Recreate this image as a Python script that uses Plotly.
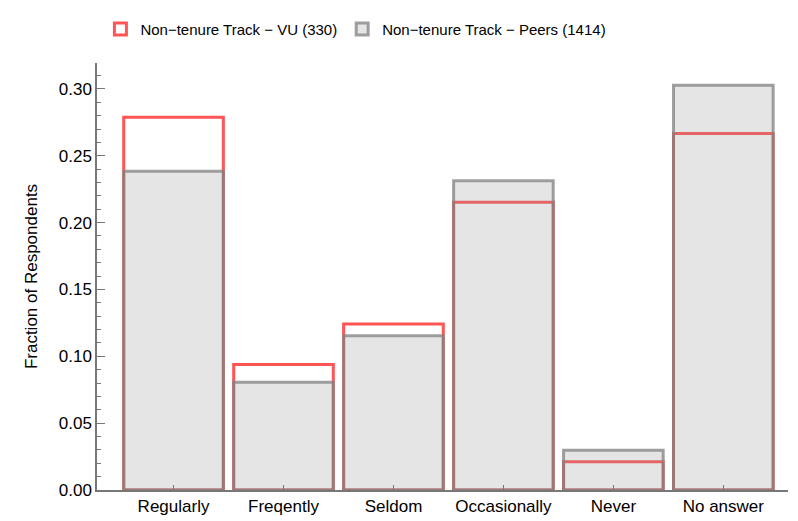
import plotly.graph_objects as go

categories = ["Regularly", "Freqently", "Seldom", "Occasionally", "Never", "No answer"]
vu_values = [0.2788, 0.0939, 0.1242, 0.2152, 0.0212, 0.2667]
peer_values = [0.2385, 0.0806, 0.1153, 0.2313, 0.0297, 0.3027]
vu_name = "Non\u2212tenure Track \u2212 VU (330)"
peer_name = "Non\u2212tenure Track \u2212 Peers (1414)"

x = list(range(len(categories)))
font = "Liberation Sans, Arial, sans-serif"

fig = go.Figure()
fig.add_trace(go.Bar(
    x=x, y=vu_values, name=vu_name, width=0.906,
    marker=dict(color="rgba(255,255,255,0)",
                line=dict(color="rgb(255,85,85)", width=3)),
))
fig.add_trace(go.Bar(
    x=x, y=peer_values, name=peer_name, width=0.906,
    marker=dict(color="rgba(150,150,150,0.25)",
                line=dict(color="rgba(128,128,128,0.75)", width=3)),
))

fig.update_layout(
    barmode="overlay",
    width=798, height=521,
    margin=dict(l=97, r=10, t=63, b=31),
    plot_bgcolor="white", paper_bgcolor="white",
    font=dict(family=font, size=17, color="black"),
    legend=dict(orientation="h", xref="container", yref="container",
                x=0.446, xanchor="center", y=0.944, yanchor="middle",
                font=dict(size=15), itemwidth=30, itemclick=False),
    xaxis=dict(range=[-0.696, 5.588], tickmode="array", tickvals=x, ticktext=categories,
               showline=True, linecolor="#777", linewidth=1.5, ticks="inside",
               ticklen=5, tickcolor="#777", showgrid=False, zeroline=False,
               automargin=False),
    yaxis=dict(range=[0, 0.3194], dtick=0.05, tickformat=".2f",
               showline=True, linecolor="#777", linewidth=1.5, ticks="inside",
               ticklen=8, tickcolor="#777", showgrid=False, zeroline=False,
               minor=dict(dtick=0.01, ticks="inside", ticklen=4, tickcolor="#777"),
               title=dict(text="Fraction of Respondents", standoff=17,
                          font=dict(size=17)),
               automargin=False),
)

fig.write_html("out.html", config={"displayModeBar": False},
               post_script="document.body.style.margin='0';")
